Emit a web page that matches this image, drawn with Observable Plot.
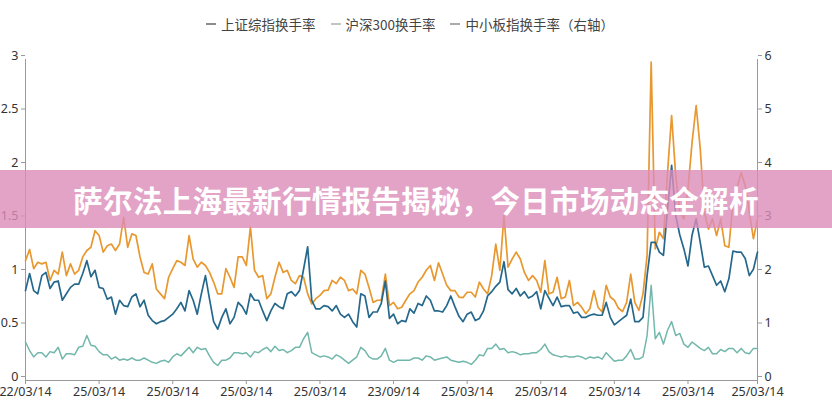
<!DOCTYPE html>
<html><head><meta charset="utf-8">
<script src="https://cdn.jsdelivr.net/npm/d3@7"></script>
<script src="https://cdn.jsdelivr.net/npm/@observablehq/plot@0.6"></script>
<style>
html,body{margin:0;padding:0;background:#fff;}
#wrap{position:relative;width:832px;height:400px;overflow:hidden;font-family:"Noto Sans CJK SC","Noto Sans",sans-serif;}
#legend{height:45px;display:flex;justify-content:center;align-items:center;gap:15px;font-size:13.5px;color:#444;padding-right:12px;padding-top:2px;box-sizing:border-box;}
#legend .it{display:flex;align-items:center;gap:5px;}
#legend .sw{display:inline-block;width:10px;height:2px;}
#banner{position:absolute;left:0;top:170px;width:832px;height:58px;background:rgba(220,140,185,0.8);color:#fff;font-weight:bold;font-size:29.5px;display:flex;align-items:center;justify-content:center;letter-spacing:0.3px;font-family:"Noto Sans CJK SC",sans-serif;}
</style></head>
<body><div id="wrap"><div id="legend"></div><div id="chart"></div><div id="banner"></div></div>
<script>
const seriesNames = ["上证综指换手率", "沪深300换手率", "中小板指换手率（右轴）"];
const legendSwatch = ["#8c8c8c", "#c4c4c4", "#ababab"];
const titleText = "萨尔法上海最新行情报告揭秘，今日市场动态全解析";
const tickIndex = [0, 18, 36, 54, 72, 90, 108, 126, 144, 162, 179];
const tickLabels = ["22/03/14","25/03/14","25/03/14","25/03/14","25/03/14","23/09/14","25/03/14","25/03/14","25/03/14","25/03/14","25/03/14"];
const leftTicks = [0, 0.5, 1, 1.5, 2, 2.5, 3];
const rightTicks = [0, 1, 2, 3, 4, 5, 6];

const shanghai = [
0.84,1.0,0.84,0.81,0.98,1.01,0.86,0.92,0.93,0.75,0.81,0.87,0.90,0.90,1.0,1.12,0.97,1.03,0.87,0.86,0.76,0.78,0.62,0.75,0.70,0.69,0.78,0.81,0.69,0.75,0.61,0.56,0.53,0.55,0.56,0.59,
0.62,0.67,0.73,0.65,0.84,0.75,0.62,0.81,0.98,0.76,0.55,0.48,0.59,0.67,0.53,0.59,0.73,0.69,0.62,0.81,0.75,0.75,0.65,0.56,0.65,0.72,0.69,0.67,0.81,0.83,0.79,0.84,1.04,1.25,0.75,
0.67,0.67,0.70,0.69,0.65,0.70,0.62,0.59,0.62,0.55,0.50,0.81,0.79,0.59,0.64,0.64,0.72,0.93,0.58,0.62,0.53,0.56,0.55,0.67,0.63,0.72,0.70,0.79,0.75,0.65,0.65,0.64,0.70,0.79,0.69,0.60,
0.55,0.62,0.64,0.56,0.58,0.65,0.79,0.83,0.88,0.92,1.11,0.85,0.81,0.86,0.79,0.83,0.77,0.79,0.83,0.67,0.84,0.77,0.70,0.78,0.69,0.70,0.70,0.63,0.64,0.59,0.59,0.61,0.62,0.61,0.61,
0.73,0.59,0.52,0.55,0.58,0.61,0.76,0.55,0.55,0.59,0.98,1.29,1.29,1.20,1.17,1.60,2.01,1.54,1.36,1.23,1.07,1.36,1.51,1.29,1.06,1.07,0.98,0.89,0.93,0.83,0.95,1.21,1.20,1.20,1.14,0.98,1.04,1.20];

const hs300 = [
0.36,0.28,0.22,0.26,0.26,0.22,0.27,0.26,0.31,0.20,0.25,0.25,0.24,0.31,0.32,0.42,0.33,0.32,0.27,0.24,0.24,0.20,0.22,0.19,0.20,0.19,0.21,0.19,0.19,0.21,0.19,0.17,0.16,0.18,0.19,0.17,
0.22,0.25,0.23,0.27,0.31,0.26,0.31,0.29,0.30,0.23,0.17,0.14,0.19,0.19,0.21,0.26,0.26,0.25,0.26,0.22,0.27,0.26,0.29,0.31,0.27,0.32,0.28,0.29,0.26,0.28,0.31,0.31,0.39,0.45,0.26,
0.24,0.22,0.23,0.22,0.20,0.24,0.22,0.19,0.16,0.19,0.22,0.31,0.28,0.22,0.20,0.20,0.23,0.30,0.19,0.17,0.19,0.19,0.19,0.19,0.21,0.21,0.19,0.23,0.22,0.19,0.20,0.21,0.22,0.19,0.18,0.17,
0.18,0.17,0.15,0.19,0.24,0.23,0.30,0.30,0.34,0.29,0.30,0.26,0.27,0.26,0.24,0.25,0.25,0.26,0.26,0.29,0.34,0.27,0.24,0.23,0.22,0.23,0.22,0.22,0.23,0.22,0.20,0.22,0.21,0.22,0.20,
0.26,0.22,0.18,0.19,0.19,0.23,0.29,0.20,0.20,0.22,0.42,0.89,0.39,0.45,0.34,0.47,0.55,0.42,0.44,0.34,0.31,0.36,0.33,0.30,0.28,0.31,0.25,0.25,0.29,0.27,0.30,0.30,0.26,0.30,0.26,0.25,0.30,0.30];

const smeRight = [
2.24,2.45,2.09,2.21,2.18,2.21,1.87,2.06,1.99,2.40,1.96,2.18,1.99,2.06,2.31,2.43,2.49,2.80,2.71,2.40,2.52,2.55,2.43,2.55,3.05,2.49,2.74,2.71,2.31,2.02,1.99,2.18,1.71,1.62,1.53,1.93,
2.09,2.24,2.21,2.15,2.71,2.27,2.12,2.21,2.15,2.02,1.84,1.62,1.62,2.09,1.93,1.74,2.31,2.31,2.15,2.87,2.06,1.93,1.96,1.53,1.62,1.93,2.21,2.02,2.06,1.87,1.81,1.96,1.93,1.62,1.43,
1.53,1.59,1.68,1.69,1.87,1.81,1.93,1.87,1.68,1.71,1.62,2.06,1.99,1.74,1.46,1.50,1.50,1.99,1.40,1.46,1.34,1.37,1.50,1.62,1.68,1.84,1.93,2.06,2.15,1.87,2.20,1.99,1.78,1.68,1.68,1.56,
1.55,1.65,1.65,1.56,1.84,1.71,1.62,1.96,2.55,2.06,3.08,2.12,2.27,2.40,2.27,2.02,1.87,1.96,1.87,1.65,2.24,1.62,1.65,1.93,1.53,1.56,1.87,1.40,1.46,1.37,1.25,1.34,1.68,1.37,1.28,
1.78,1.56,1.50,1.35,1.29,1.46,1.99,1.46,1.31,1.62,2.34,5.95,2.46,2.77,2.65,3.89,4.95,3.83,3.15,3.02,3.58,4.45,5.14,4.33,3.15,2.83,3.02,2.71,3.02,2.52,2.49,3.33,3.61,3.89,3.64,3.15,2.65,3.02];

const colors = ["#25688c", "#72b7ab", "#e8982f"];

// legend
const leg = document.getElementById("legend");
seriesNames.forEach((n, i) => {
  const it = document.createElement("span"); it.className = "it";
  const sw = document.createElement("span"); sw.className = "sw"; sw.style.background = legendSwatch[i];
  const t = document.createElement("span"); t.textContent = n;
  it.appendChild(sw); it.appendChild(t); leg.appendChild(it);
});
document.getElementById("banner").textContent = titleText;

const rows = (arr) => arr.map((v, i) => ({i, v}));

const chart = Plot.plot({
  width: 832, height: 355,
  marginLeft: 25, marginRight: 75, marginTop: 14, marginBottom: 20,
  style: {fontFamily: "'Noto Sans','Open Sans',sans-serif", fontSize: "12.5px", color: "#333", background: "transparent", overflow: "visible"},
  x: {domain: [0, shanghai.length - 1]},
  y: {domain: [0, 3]},
  marks: [
    Plot.ruleY([0], {stroke: "#9a9a9a"}),
    Plot.ruleX([0], {stroke: "#9a9a9a"}),
    Plot.ruleX([shanghai.length - 1], {stroke: "#9a9a9a"}),
    Plot.axisY({anchor: "left", ticks: leftTicks, tickSize: 4, tickPadding: 3, dy: -4, stroke: "#9a9a9a", fill: "#333", tickFormat: d => String(d), label: null}),
    Plot.axisY({anchor: "right", ticks: rightTicks.map(d => d / 2), tickSize: 4, tickPadding: 3, dy: -4, stroke: "#9a9a9a", fill: "#333", tickFormat: d => String(d * 2), label: null}),
    Plot.axisX({ticks: tickIndex, tickSize: 4, tickPadding: 3, stroke: "#9a9a9a", fill: "#333", tickFormat: (d) => tickLabels[tickIndex.indexOf(d)], label: null}),
    Plot.line(rows(smeRight), {x: "i", y: d => d.v / 2, stroke: colors[2], strokeWidth: 1.7}),
    Plot.line(rows(shanghai), {x: "i", y: "v", stroke: colors[0], strokeWidth: 1.7}),
    Plot.line(rows(hs300), {x: "i", y: "v", stroke: colors[1], strokeWidth: 1.5})
  ]
});
document.getElementById("chart").appendChild(chart);
</script></body></html>
